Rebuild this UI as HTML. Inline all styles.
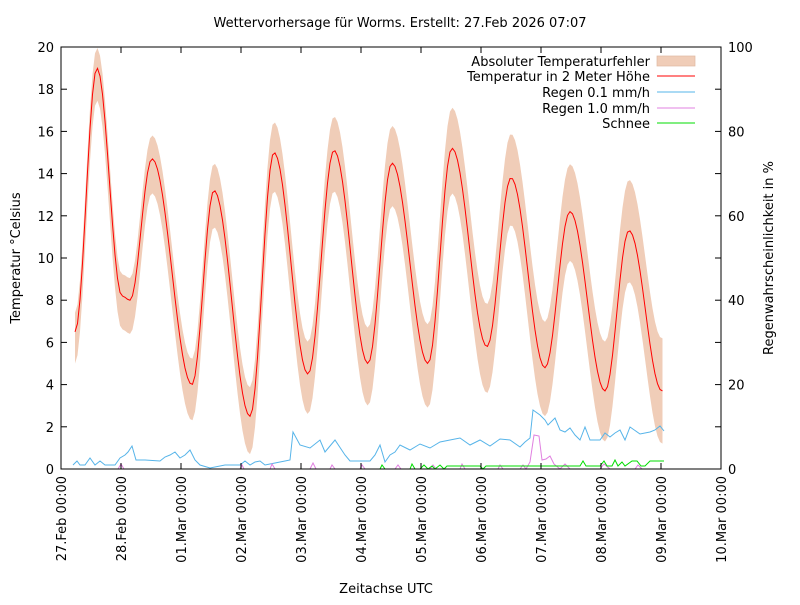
<!DOCTYPE html><html><head><meta charset="utf-8"><style>body{margin:0;background:#fff}svg{font-family:"DejaVu Sans","Liberation Sans",sans-serif;font-size:13px}</style></head><body>
<svg id="s" width="800" height="600" xmlns="http://www.w3.org/2000/svg">
<rect width="800" height="600" fill="#fff"/>
<g id="band"></g><g id="lines"></g>
<rect x="61" y="47" width="660" height="422" fill="none" stroke="#000" stroke-width="1"/>
<g id="ticks" stroke="#000"></g><g id="labels"></g>
<text x="400" y="27" text-anchor="middle">Wettervorhersage für Worms. Erstellt: 27.Feb 2026 07:07</text>
<text x="386" y="593" text-anchor="middle">Zeitachse UTC</text>
<text transform="translate(20,258) rotate(-90)" text-anchor="middle">Temperatur °Celsius</text>
<text transform="translate(773,258) rotate(-90)" text-anchor="middle">Regenwahrscheinlichkeit in %</text>
<g text-anchor="end">
<text x="650" y="66">Absoluter Temperaturfehler</text>
<text x="650" y="81">Temperatur in 2 Meter Höhe</text>
<text x="650" y="97">Regen 0.1 mm/h</text>
<text x="650" y="113">Regen 1.0 mm/h</text>
<text x="650" y="128">Schnee</text>
</g>
<rect x="657" y="56" width="38" height="10" fill="#f0cdb8" stroke="#e0b8a0" stroke-width="0.7"/>
<line x1="657" x2="695" y1="76" y2="76" stroke="#f00"/>
<line x1="657" x2="695" y1="92" y2="92" stroke="#56b4e9"/>
<line x1="657" x2="695" y1="108" y2="108" stroke="#e080e0"/>
<line x1="657" x2="695" y1="123" y2="123" stroke="#0d0"/>
</svg>
<script>
const NS="http://www.w3.org/2000/svg";
function el(p,t,a,txt){const e=document.createElementNS(NS,t);for(const k in a)e.setAttribute(k,a[k]);if(txt!==undefined)e.textContent=txt;document.getElementById(p).appendChild(e);return e;}
const Y=v=>469-v*21.1;
for(let i=0;i<=10;i++){const y=469-i*42.2;el('ticks','line',{x1:61,x2:67,y1:y,y2:y});el('ticks','line',{x1:721,x2:715,y1:y,y2:y});
el('labels','text',{x:54,y:y+5,'text-anchor':'end'},String(i*2));}
for(let i=0;i<=5;i++){const y=469-i*84.4;el('labels','text',{x:728,y:y+5},String(i*20));}
const days=["27.Feb","28.Feb","01.Mar","02.Mar","03.Mar","04.Mar","05.Mar","06.Mar","07.Mar","08.Mar","09.Mar","10.Mar"];
for(let i=0;i<=11;i++){const x=61+i*60;el('ticks','line',{x1:x,x2:x,y1:469,y2:463});el('ticks','line',{x1:x,x2:x,y1:47,y2:53});
el('labels','text',{transform:`translate(${x+5},476) rotate(-90)`,'text-anchor':'end'},days[i]+" 00:00");}
const ex=[[75,6.5],[97,19],[122,8.2],[130,8],[152,14.7],[192,4],[214,13.2],[250,2.5],[274,15],[308,4.5],[334,15.1],[368,5],[392,14.5],[428,5],[452,15.2],[487,5.8],[511,13.8],[545,4.8],[570,12.2],[605,3.7],[629,11.3],[662,3.7],[664,3.7]];
const T=[];for(let x=75;x<=664;x+=2.5){let k=0;while(k<ex.length-2&&ex[k+1][0]<x)k++;const[a,va]=ex[k],[b,vb]=ex[k+1];const f=Math.min(1,Math.max(0,(x-a)/(b-a)));const v=va+(vb-va)*(1-Math.cos(Math.PI*f))/2;T.push([x,v]);}
let up="",lo="";T.forEach(([x,v])=>{const w=0.9+1.6*(x-75)/590;up+=`${x},${Y(v+w)} `;});
for(let i=T.length-1;i>=0;i--){const[x,v]=T[i];const w=1.5+1.0*(x-75)/590;lo+=`${x},${Y(v-w)} `;}
el('band','polygon',{points:up+lo,fill:'#f0cdb8'});
el('lines','polyline',{points:T.map(p=>p[0]+","+Y(p[1])).join(" "),fill:"none",stroke:"#f00","stroke-width":1});
const blue=[[73,465],[77,461],[80,465],[85,465],[90,458],[95,465],[100,461],[105,465],[110,465],[115,465],[120,458],[125,455],[128,452],[132,446],[136,460],[145,460],[160,461],[165,457],[170,455],[175,452],[180,458],[185,455],[190,450],[195,460],[200,465],[210,468],[225,465],[240,465],[245,461],[250,465],[255,462],[260,461],[265,465],[270,464],[275,463],[280,462],[285,461],[290,460],[293,432],[300,445],[310,448],[320,440],[325,452],[335,440],[345,455],[350,461],[360,461],[370,461],[375,455],[380,445],[385,462],[390,455],[395,452],[400,445],[410,450],[420,444],[430,448],[440,442],[450,440],[460,438],[470,445],[480,440],[490,446],[500,439],[510,440],[520,447],[525,442],[530,438],[533,410],[540,415],[545,420],[548,425],[555,418],[560,430],[565,432],[570,428],[575,435],[580,440],[585,427],[590,440],[600,440],[605,433],[610,437],[615,433],[620,430],[625,440],[630,427],[640,434],[650,432],[655,430],[660,426],[664,431]];
el('lines','polyline',{points:blue.join(" "),fill:"none",stroke:"#56b4e9"});
const mag=[[118,469],[121,464],[124,469],[240,469],[242,465],[244,469],[270,469],[272,464],[275,469],[310,469],[313,463],[316,469],[330,469],[332,465],[335,469],[360,469],[362,465],[365,469],[395,469],[398,465],[401,469],[430,469],[433,465],[436,469],[460,469],[462,464],[465,469],[498,469],[500,465],[503,469],[520,469],[523,465],[526,469],[530,462],[534,435],[539,436],[542,460],[546,459],[550,456],[554,464],[560,469],[565,464],[570,469],[600,469],[604,464],[610,469],[635,469],[638,465],[642,469],[664,469]];
el('lines','polyline',{points:mag.join(" "),fill:"none",stroke:"#e080e0"});
const grn=[[380,469],[382,465],[385,469],[400,469],[410,469],[412,464],[415,469],[420,469],[424,465],[428,469],[432,466],[435,469],[440,465],[444,469],[447,466],[480,466],[483,469],[486,466],[580,466],[583,461],[586,466],[600,466],[604,461],[607,466],[612,466],[615,460],[618,466],[622,462],[625,466],[632,461],[637,461],[641,466],[645,466],[650,461],[664,461]];
el('lines','polyline',{points:grn.join(" "),fill:"none",stroke:"#0d0"});
</script>
</body></html>
